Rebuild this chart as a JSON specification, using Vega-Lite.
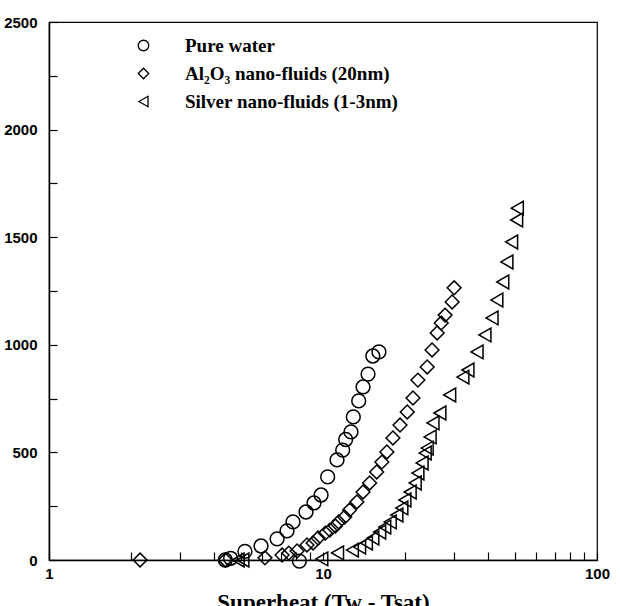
{
  "$schema": "https://vega.github.io/schema/vega-lite/v6.json",
  "autosize": {"type": "none"},
  "padding": {"left": 49, "top": 22, "right": 23, "bottom": 46},
  "width": 548,
  "height": 538,
  "background": "white",
  "config": {
    "view": {"stroke": "black", "strokeWidth": 1.2},
    "axis": {"domainColor": "black", "tickColor": "black", "labelColor": "black", "titleColor": "black", "grid": false}
  },
  "data": {
    "values": [
      {"series": "Pure water", "x": 4.4, "y": 0},
      {"series": "Pure water", "x": 4.6, "y": 8},
      {"series": "Pure water", "x": 5.19, "y": 40},
      {"series": "Pure water", "x": 5.94, "y": 65},
      {"series": "Pure water", "x": 6.8, "y": 98},
      {"series": "Pure water", "x": 7.39, "y": 135},
      {"series": "Pure water", "x": 7.77, "y": 177},
      {"series": "Pure water", "x": 8.2, "y": -5},
      {"series": "Pure water", "x": 8.67, "y": 223},
      {"series": "Pure water", "x": 9.27, "y": 265},
      {"series": "Pure water", "x": 9.84, "y": 302},
      {"series": "Pure water", "x": 10.4, "y": 386},
      {"series": "Pure water", "x": 11.25, "y": 465},
      {"series": "Pure water", "x": 11.8, "y": 511},
      {"series": "Pure water", "x": 12.1, "y": 560},
      {"series": "Pure water", "x": 12.65, "y": 595},
      {"series": "Pure water", "x": 12.9, "y": 665},
      {"series": "Pure water", "x": 13.5, "y": 739},
      {"series": "Pure water", "x": 14.0, "y": 804},
      {"series": "Pure water", "x": 14.6, "y": 864},
      {"series": "Pure water", "x": 15.2, "y": 948},
      {"series": "Pure water", "x": 16.0, "y": 967},
      {"series": "Al₂O₃ nano-fluids (20nm)", "x": 2.15, "y": 0},
      {"series": "Al₂O₃ nano-fluids (20nm)", "x": 4.4, "y": 0},
      {"series": "Al₂O₃ nano-fluids (20nm)", "x": 6.14, "y": 10},
      {"series": "Al₂O₃ nano-fluids (20nm)", "x": 7.09, "y": 23},
      {"series": "Al₂O₃ nano-fluids (20nm)", "x": 7.5, "y": 32},
      {"series": "Al₂O₃ nano-fluids (20nm)", "x": 8.04, "y": 42},
      {"series": "Al₂O₃ nano-fluids (20nm)", "x": 8.74, "y": 70},
      {"series": "Al₂O₃ nano-fluids (20nm)", "x": 9.2, "y": 79},
      {"series": "Al₂O₃ nano-fluids (20nm)", "x": 9.59, "y": 102},
      {"series": "Al₂O₃ nano-fluids (20nm)", "x": 10.2, "y": 125},
      {"series": "Al₂O₃ nano-fluids (20nm)", "x": 10.6, "y": 139},
      {"series": "Al₂O₃ nano-fluids (20nm)", "x": 11.1, "y": 158},
      {"series": "Al₂O₃ nano-fluids (20nm)", "x": 11.4, "y": 177},
      {"series": "Al₂O₃ nano-fluids (20nm)", "x": 12.0, "y": 200},
      {"series": "Al₂O₃ nano-fluids (20nm)", "x": 12.5, "y": 232},
      {"series": "Al₂O₃ nano-fluids (20nm)", "x": 13.3, "y": 270},
      {"series": "Al₂O₃ nano-fluids (20nm)", "x": 14.0, "y": 316},
      {"series": "Al₂O₃ nano-fluids (20nm)", "x": 14.8, "y": 358},
      {"series": "Al₂O₃ nano-fluids (20nm)", "x": 15.7, "y": 409},
      {"series": "Al₂O₃ nano-fluids (20nm)", "x": 16.4, "y": 455},
      {"series": "Al₂O₃ nano-fluids (20nm)", "x": 17.1, "y": 502},
      {"series": "Al₂O₃ nano-fluids (20nm)", "x": 18.0, "y": 567},
      {"series": "Al₂O₃ nano-fluids (20nm)", "x": 19.1, "y": 627},
      {"series": "Al₂O₃ nano-fluids (20nm)", "x": 20.3, "y": 688},
      {"series": "Al₂O₃ nano-fluids (20nm)", "x": 21.3, "y": 753},
      {"series": "Al₂O₃ nano-fluids (20nm)", "x": 22.2, "y": 836},
      {"series": "Al₂O₃ nano-fluids (20nm)", "x": 24.0, "y": 897},
      {"series": "Al₂O₃ nano-fluids (20nm)", "x": 25.0, "y": 976},
      {"series": "Al₂O₃ nano-fluids (20nm)", "x": 26.1, "y": 1055},
      {"series": "Al₂O₃ nano-fluids (20nm)", "x": 27.0, "y": 1101},
      {"series": "Al₂O₃ nano-fluids (20nm)", "x": 27.9, "y": 1138},
      {"series": "Al₂O₃ nano-fluids (20nm)", "x": 29.6, "y": 1199},
      {"series": "Al₂O₃ nano-fluids (20nm)", "x": 30.1, "y": 1265},
      {"series": "Silver nano-fluids (1-3nm)", "x": 4.9, "y": 0},
      {"series": "Silver nano-fluids (1-3nm)", "x": 5.1, "y": 0},
      {"series": "Silver nano-fluids (1-3nm)", "x": 9.9, "y": 5},
      {"series": "Silver nano-fluids (1-3nm)", "x": 11.3, "y": 33},
      {"series": "Silver nano-fluids (1-3nm)", "x": 12.8, "y": 46},
      {"series": "Silver nano-fluids (1-3nm)", "x": 13.6, "y": 60},
      {"series": "Silver nano-fluids (1-3nm)", "x": 14.4, "y": 79},
      {"series": "Silver nano-fluids (1-3nm)", "x": 15.2, "y": 102},
      {"series": "Silver nano-fluids (1-3nm)", "x": 16.1, "y": 130},
      {"series": "Silver nano-fluids (1-3nm)", "x": 16.8, "y": 153},
      {"series": "Silver nano-fluids (1-3nm)", "x": 17.6, "y": 177},
      {"series": "Silver nano-fluids (1-3nm)", "x": 18.6, "y": 209},
      {"series": "Silver nano-fluids (1-3nm)", "x": 19.4, "y": 242},
      {"series": "Silver nano-fluids (1-3nm)", "x": 19.9, "y": 279},
      {"series": "Silver nano-fluids (1-3nm)", "x": 20.8, "y": 316},
      {"series": "Silver nano-fluids (1-3nm)", "x": 21.7, "y": 358},
      {"series": "Silver nano-fluids (1-3nm)", "x": 22.2, "y": 404},
      {"series": "Silver nano-fluids (1-3nm)", "x": 23.0, "y": 451},
      {"series": "Silver nano-fluids (1-3nm)", "x": 23.6, "y": 497},
      {"series": "Silver nano-fluids (1-3nm)", "x": 24.0, "y": 520},
      {"series": "Silver nano-fluids (1-3nm)", "x": 24.6, "y": 572},
      {"series": "Silver nano-fluids (1-3nm)", "x": 25.2, "y": 637},
      {"series": "Silver nano-fluids (1-3nm)", "x": 26.7, "y": 683},
      {"series": "Silver nano-fluids (1-3nm)", "x": 29.0, "y": 767},
      {"series": "Silver nano-fluids (1-3nm)", "x": 32.4, "y": 850},
      {"series": "Silver nano-fluids (1-3nm)", "x": 33.8, "y": 883},
      {"series": "Silver nano-fluids (1-3nm)", "x": 36.5, "y": 967},
      {"series": "Silver nano-fluids (1-3nm)", "x": 39.0, "y": 1046},
      {"series": "Silver nano-fluids (1-3nm)", "x": 41.4, "y": 1125},
      {"series": "Silver nano-fluids (1-3nm)", "x": 43.1, "y": 1208},
      {"series": "Silver nano-fluids (1-3nm)", "x": 45.3, "y": 1292},
      {"series": "Silver nano-fluids (1-3nm)", "x": 46.9, "y": 1385},
      {"series": "Silver nano-fluids (1-3nm)", "x": 48.8, "y": 1478},
      {"series": "Silver nano-fluids (1-3nm)", "x": 50.9, "y": 1580},
      {"series": "Silver nano-fluids (1-3nm)", "x": 51.2, "y": 1635}
    ]
  },
  "mark": {"type": "point", "filled": false, "stroke": "black", "strokeWidth": 1.5, "opacity": 1, "size": 190},
  "encoding": {
    "x": {
      "field": "x", "type": "quantitative",
      "scale": {"type": "log", "domain": [1, 100], "nice": false},
      "axis": {
        "values": [1, 2, 3, 4, 5, 6, 7, 8, 9, 10, 20, 30, 40, 50, 60, 70, 80, 90, 100],
        "labelExpr": "(datum.value == 1 || datum.value == 10 || datum.value == 100) ? datum.label : ''",
        "format": "d",
        "labelOverlap": false,
        "labelFlush": false,
        "tickSize": -8,
        "tickWidth": 1.2,
        "domainWidth": 1.5,
        "labelPadding": 14,
        "labelFont": "Liberation Sans",
        "labelFontWeight": "bold",
        "labelFontSize": 15,
        "title": "Superheat (Tw - Tsat)",
        "titleFont": "Liberation Serif",
        "titleFontWeight": "bold",
        "titleFontSize": 23,
        "titlePadding": 10
      }
    },
    "y": {
      "field": "y", "type": "quantitative",
      "scale": {"domain": [0, 2500], "nice": false},
      "axis": {
        "values": [0, 250, 500, 750, 1000, 1250, 1500, 1750, 2000, 2250, 2500],
        "labelExpr": "datum.value % 500 == 0 ? datum.label : ''",
        "format": "d",
        "labelOverlap": false,
        "tickSize": -8,
        "tickWidth": 1.2,
        "domainWidth": 1.5,
        "labelPadding": 20,
        "labelFont": "Liberation Sans",
        "labelFontWeight": "bold",
        "labelFontSize": 15,
        "title": null
      }
    },
    "shape": {
      "field": "series", "type": "nominal",
      "scale": {
        "domain": ["Pure water", "Al₂O₃ nano-fluids (20nm)", "Silver nano-fluids (1-3nm)"],
        "range": ["circle", "diamond", "triangle-left"]
      },
      "legend": {
        "title": null,
        "orient": "none",
        "legendX": 85,
        "legendY": 14,
        "padding": 0,
        "symbolSize": 110,
        "symbolStrokeWidth": 1.3,
        "symbolStrokeColor": "black",
        "symbolFillColor": "transparent",
        "labelFont": "Liberation Serif",
        "labelFontWeight": "bold",
        "labelFontSize": 19,
        "labelColor": "black",
        "labelOffset": 32,
        "rowPadding": 8,
        "labelLimit": 400
      }
    }
  }
}
